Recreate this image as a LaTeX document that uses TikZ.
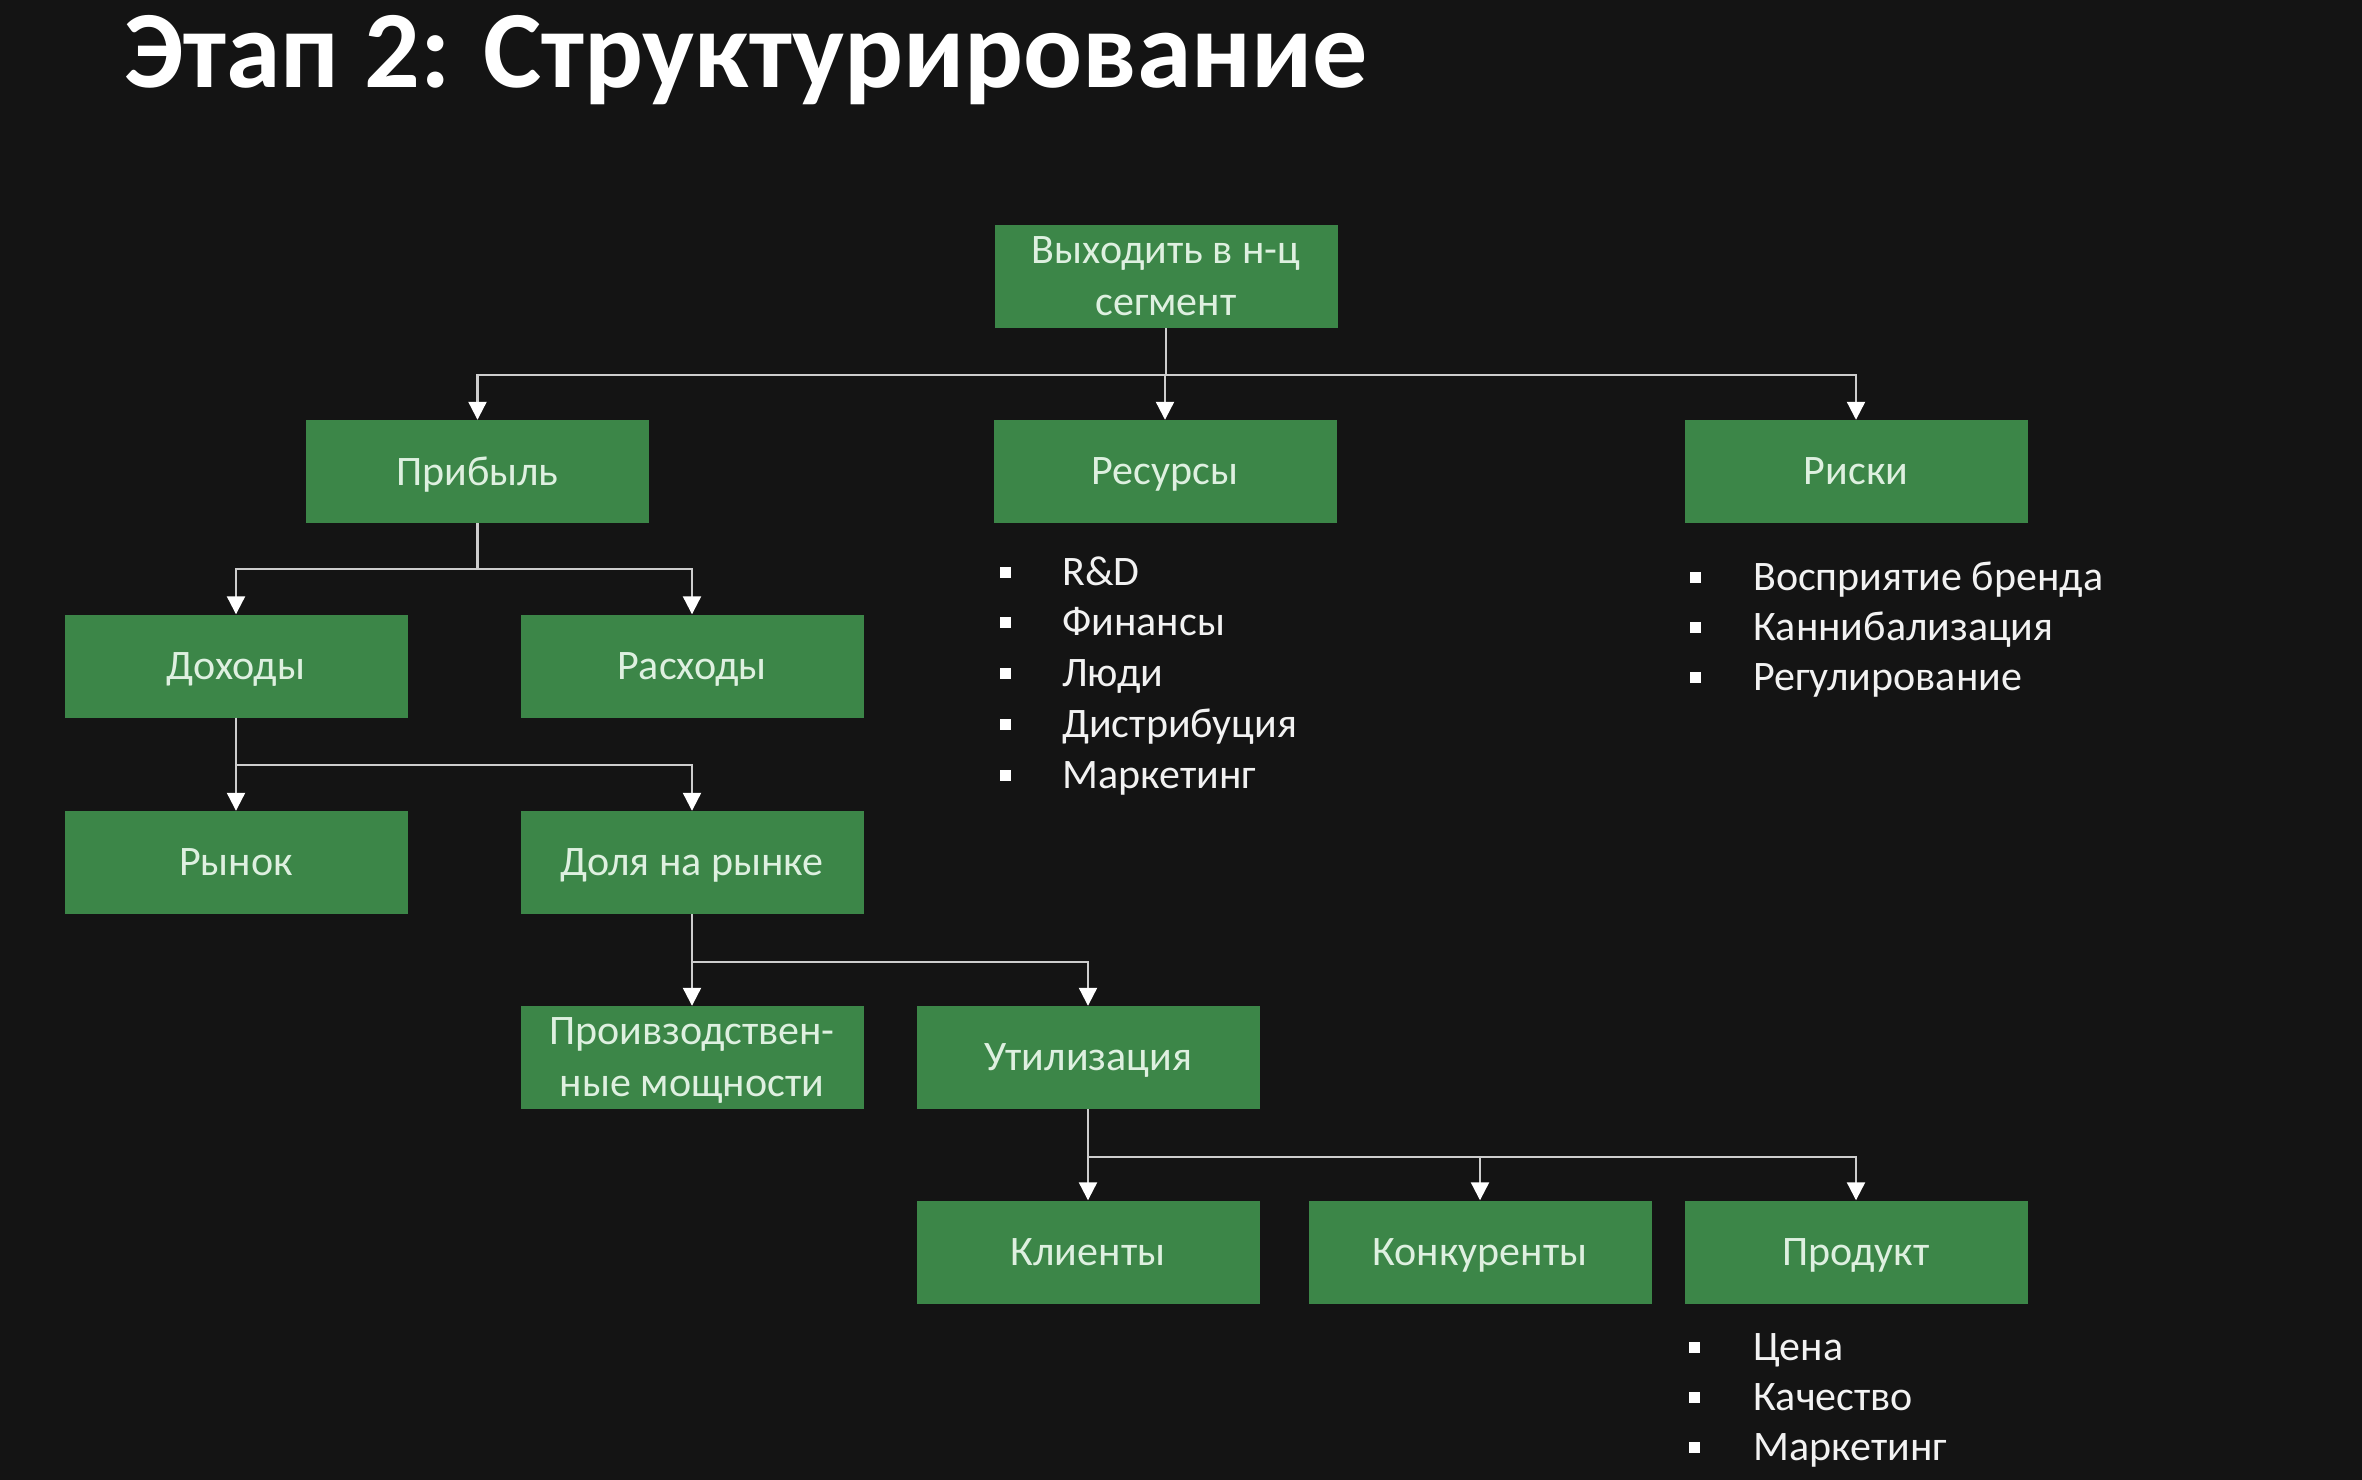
\documentclass[tikz,border=0pt]{standalone}
\usepackage{fontspec}
\setmainfont{Carlito}
\usetikzlibrary{arrows.meta}
\definecolor{bg}{RGB}{20,20,20}
\definecolor{boxgreen}{RGB}{60,134,72}
\definecolor{boxtext}{RGB}{222,240,224}
\definecolor{wire}{RGB}{205,205,205}
\definecolor{listtext}{RGB}{242,242,242}
\tikzset{
  card/.style={fill=boxgreen, draw=none, minimum width=343pt, minimum height=103pt,
    inner sep=0pt, align=center, text=boxtext, text depth=0pt,
    font=\fontsize{42}{52}\selectfont},
  link/.style={draw=wire, line width=2.2pt,
    -{Triangle[width=18pt,length=18pt,color=white]}},
  item/.style={anchor=base west, text=listtext, inner sep=0pt,
    font=\fontsize{42}{50}\selectfont},
  dot/.style={fill=white, minimum size=11pt, inner sep=0pt},
}
\begin{document}
\begin{tikzpicture}[x=1pt,y=-1pt]
  % page
  \fill[bg] (0,0) rectangle (2362,1480);
  \path[use as bounding box] (0,0) rectangle (2362,1480);

  % heading
  \node[anchor=base west, inner sep=0pt, text=white,
        font=\fontsize{110}{118}\selectfont\bfseries] (title) at (124,88)
        {Этап 2: Структурирование};

  % tree boxes
  \node[card] (top)   at (1166,276.5) {Выходить в н-ц\\сегмент};
  \node[card] (prib)  at (477.5,471.5) {Прибыль};
  \node[card] (res)   at (1165,471.5)  {Ресурсы};
  \node[card] (risk)  at (1856,471.5)  {Риски};
  \node[card] (doh)   at (236,666)     {Доходы};
  \node[card] (ras)   at (692,666)     {Расходы};
  \node[card] (ryn)   at (236,862.5)   {Рынок};
  \node[card] (dol)   at (692,862.5)   {Доля на рынке};
  \node[card] (proiz) at (692,1057.5)  {Проивзодствен-\\ные мощности};
  \node[card] (util)  at (1088,1057.5) {Утилизация};
  \node[card] (kli)   at (1088,1252)   {Клиенты};
  \node[card] (kon)   at (1480,1252)   {Конкуренты};
  \node[card] (prod)  at (1856,1252)   {Продукт};

  % bus levels
  \coordinate (b1) at (0,375);
  \coordinate (b2) at (0,569);
  \coordinate (b3) at (0,765);
  \coordinate (b4) at (0,962);
  \coordinate (b5) at (0,1157);

  % connectors
  \foreach \p/\c/\b in {top/prib/b1, top/res/b1, top/risk/b1,
                        prib/doh/b2, prib/ras/b2,
                        doh/ryn/b3, doh/dol/b3,
                        dol/proiz/b4, dol/util/b4,
                        util/kli/b5, util/kon/b5, util/prod/b5}
    \draw[link] (\p.south) |- (\c.north |- \b) -- (\c.north);

  % resources list
  \foreach \t [count=\i from 0] in {R\&D, Финансы, Люди, Дистрибуция, Маркетинг} {
    \node[dot] (rd\i) at (1005,572+50.8*\i) {};
    \node[item] (rt\i) at (1062,585+50.8*\i) {\t};
  }
  % risks list
  \foreach \t [count=\i from 0] in {Восприятие бренда, Каннибализация, Регулирование} {
    \node[dot] (kd\i) at (1695,577+50*\i) {};
    \node[item] (kt\i) at (1753,590+50*\i) {\t};
  }
  % product list
  \foreach \t [count=\i from 0] in {Цена, Качество, Маркетинг} {
    \node[dot] (pd\i) at (1694,1347+50*\i) {};
    \node[item] (pt\i) at (1753,1360+50*\i) {\t};
  }
\end{tikzpicture}
\end{document}
